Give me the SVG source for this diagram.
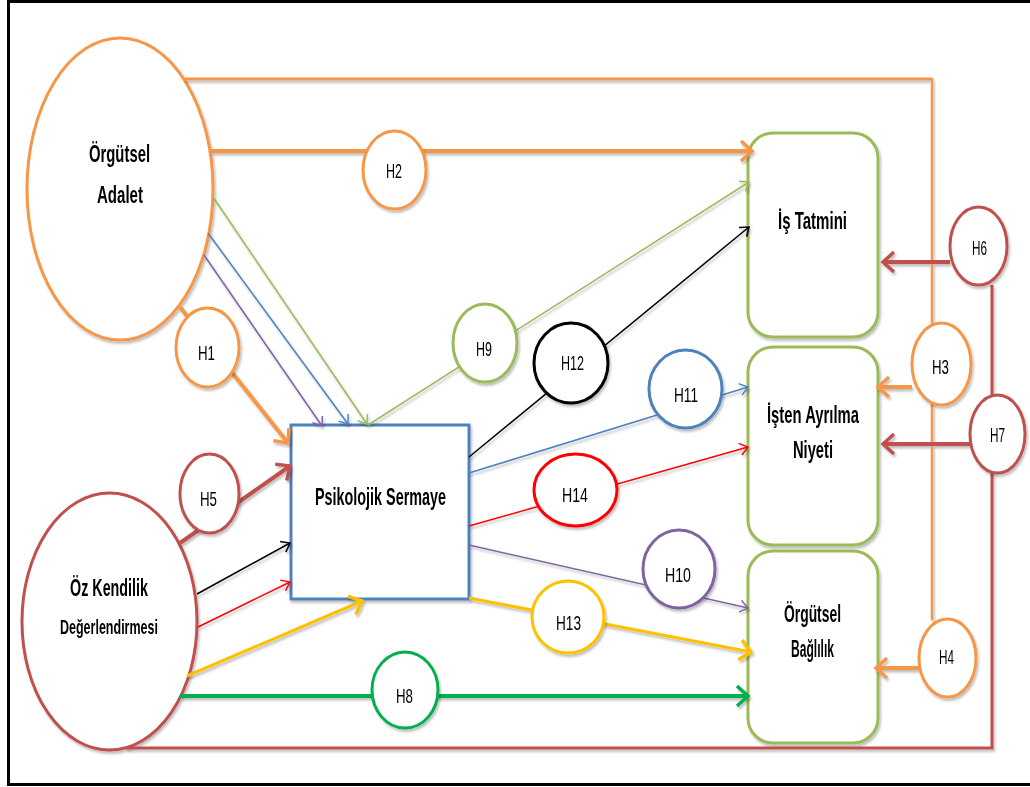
<svg xmlns="http://www.w3.org/2000/svg" width="1030" height="787" viewBox="0 0 1030 787">
<style>
.bg{fill:#fff}
.frame{stroke:#000;stroke-width:3;fill:none}
.node{fill:#fff}
.lbl{font-family:"Liberation Sans",Arial,sans-serif;font-weight:bold;font-size:24px;fill:#000;text-anchor:middle}
.sm{font-size:21px}
.h{font-family:"Liberation Sans",Arial,sans-serif;font-weight:normal;font-size:21px;fill:#000;text-anchor:middle}
.c{fill:none;stroke-linecap:butt}
.or{stroke:#F79646}
.dr{stroke:#C0504D}
.lg{stroke:#9BBB59}
.bl{stroke:#4F81BD}
.pu{stroke:#8064A2}
.ye{stroke:#FFC000}
.rd{stroke:#FF0000}
.gr{stroke:#00B050}
.bk{stroke:#000}
.thick{stroke-width:4}
.mid{stroke-width:3}
.thin{stroke-width:1.5}
.circ{fill:#fff;stroke-width:3}
</style>
<defs>
<filter id="sh" x="-10%" y="-10%" width="130%" height="140%">
<feDropShadow dx="1.5" dy="2.5" stdDeviation="1.2" flood-color="#000" flood-opacity="0.25"/>
</filter>
<marker id="aOr" markerUnits="userSpaceOnUse" markerWidth="20" markerHeight="24" refX="12" refY="11" orient="auto" overflow="visible"><path d="M1,1 L12,11 L1,21" fill="none" stroke="#F79646" stroke-width="3.5"/></marker>
<marker id="aDr" markerUnits="userSpaceOnUse" markerWidth="20" markerHeight="24" refX="12" refY="11" orient="auto" overflow="visible"><path d="M1,1 L12,11 L1,21" fill="none" stroke="#C0504D" stroke-width="3.5"/></marker>
<marker id="aYe" markerUnits="userSpaceOnUse" markerWidth="20" markerHeight="24" refX="12" refY="11" orient="auto" overflow="visible"><path d="M1,1 L12,11 L1,21" fill="none" stroke="#FFC000" stroke-width="3.5"/></marker>
<marker id="aGr" markerUnits="userSpaceOnUse" markerWidth="20" markerHeight="24" refX="12" refY="11" orient="auto" overflow="visible"><path d="M1,1 L12,11 L1,21" fill="none" stroke="#00B050" stroke-width="3.5"/></marker>
<marker id="aLg" markerUnits="userSpaceOnUse" markerWidth="14" markerHeight="16" refX="9" refY="7" orient="auto" overflow="visible"><path d="M1,1 L9,7 L1,13" fill="none" stroke="#9BBB59" stroke-width="1.5"/></marker>
<marker id="aBl" markerUnits="userSpaceOnUse" markerWidth="14" markerHeight="16" refX="9" refY="7" orient="auto" overflow="visible"><path d="M1,1 L9,7 L1,13" fill="none" stroke="#4F81BD" stroke-width="1.5"/></marker>
<marker id="aPu" markerUnits="userSpaceOnUse" markerWidth="14" markerHeight="16" refX="9" refY="7" orient="auto" overflow="visible"><path d="M1,1 L9,7 L1,13" fill="none" stroke="#8064A2" stroke-width="1.5"/></marker>
<marker id="aBk" markerUnits="userSpaceOnUse" markerWidth="14" markerHeight="16" refX="9" refY="7" orient="auto" overflow="visible"><path d="M1,1 L9,7 L1,13" fill="none" stroke="#000" stroke-width="1.5"/></marker>
<marker id="aRd" markerUnits="userSpaceOnUse" markerWidth="14" markerHeight="16" refX="9" refY="7" orient="auto" overflow="visible"><path d="M1,1 L9,7 L1,13" fill="none" stroke="#FF0000" stroke-width="1.5"/></marker>
</defs>
<rect class="bg" x="0" y="0" width="1030" height="787"/>
<path class="frame" d="M1030,1.5 H8.5 V784.5 H1030"/>

<g id="node-orgutsel-adalet" filter="url(#sh)">
<ellipse class="node or" cx="120" cy="189" rx="93" ry="151" stroke-width="3"/>
<text class="lbl" x="119.5" y="162" textLength="61" lengthAdjust="spacingAndGlyphs">Örgütsel</text>
<text class="lbl" x="120" y="203" textLength="46" lengthAdjust="spacingAndGlyphs">Adalet</text>
</g>
<g id="node-oz-kendilik" filter="url(#sh)">
<ellipse class="node dr" cx="109.5" cy="621.5" rx="87.5" ry="128.5" stroke-width="3"/>
<text class="lbl" x="109" y="596" textLength="78" lengthAdjust="spacingAndGlyphs">Öz Kendilik</text>
<text class="lbl sm" x="109" y="634" textLength="98" lengthAdjust="spacingAndGlyphs">Değerlendirmesi</text>
</g>
<g id="node-psikolojik-sermaye" filter="url(#sh)">
<rect class="node bl" x="291" y="425" width="178" height="174" stroke-width="3"/>
<text class="lbl" x="380.5" y="505" textLength="131" lengthAdjust="spacingAndGlyphs">Psikolojik Sermaye</text>
</g>
<g id="node-is-tatmini" filter="url(#sh)">
<rect class="node lg" x="748" y="133" width="130" height="204" rx="25" ry="25" stroke-width="3"/>
<text class="lbl" x="812.5" y="229" textLength="69" lengthAdjust="spacingAndGlyphs">İş Tatmini</text>
</g>
<g id="node-isten-ayrilma" filter="url(#sh)">
<rect class="node lg" x="748" y="347" width="130" height="198" rx="25" ry="25" stroke-width="3"/>
<text class="lbl" x="813" y="423" textLength="92" lengthAdjust="spacingAndGlyphs">İşten Ayrılma</text>
<text class="lbl" x="813" y="458" textLength="40" lengthAdjust="spacingAndGlyphs">Niyeti</text>
</g>
<g id="node-orgutsel-baglilik" filter="url(#sh)">
<rect class="node lg" x="748" y="551" width="130" height="192" rx="25" ry="25" stroke-width="3"/>
<text class="lbl" x="812.5" y="622" textLength="57" lengthAdjust="spacingAndGlyphs">Örgütsel</text>
<text class="lbl" x="812.5" y="657" textLength="43" lengthAdjust="spacingAndGlyphs">Bağlılık</text>
</g>

<g id="connectors" filter="url(#sh)">
<path class="c or mid" d="M184,79 H932"/>
<path class="c or" stroke-width="2.5" d="M932,78 V620"/>
<path class="c dr mid" d="M992,285 V748 H126"/>
<path class="c or thick" d="M211,151 H752" marker-end="url(#aOr)"/>
<path class="c or thick" d="M180,307 L288,443" marker-end="url(#aOr)"/>
<path class="c lg thin" d="M213,197 L367,424" marker-end="url(#aLg)"/>
<path class="c bl thin" d="M208,233 L348,424" marker-end="url(#aBl)"/>
<path class="c pu thin" d="M204,255 L322,426" marker-end="url(#aPu)"/>
<path class="c dr thick" d="M180,543 L290,466" marker-end="url(#aDr)"/>
<path class="c bk thin" d="M197,594 L290,543" marker-end="url(#aBk)"/>
<path class="c rd thin" d="M198,627 L290,582" marker-end="url(#aRd)"/>
<path class="c ye mid" d="M187,676 L362,601" marker-end="url(#aYe)"/>
<path class="c gr thick" d="M180,696 H748" marker-end="url(#aGr)"/>
<path class="c lg thin" d="M368,425 L749,182" marker-end="url(#aLg)"/>
<path class="c bk thin" d="M469,457 L749,227" marker-end="url(#aBk)"/>
<path class="c bl thin" d="M469,473 L748,387" marker-end="url(#aBl)"/>
<path class="c rd thin" d="M469,526 L748,447" marker-end="url(#aRd)"/>
<path class="c pu thin" d="M469,545 L748,608" marker-end="url(#aPu)"/>
<path class="c ye mid" d="M469,598 L751,652" marker-end="url(#aYe)"/>
<path class="c or thick" d="M912,387 L878,387" marker-end="url(#aOr)"/>
<path class="c or thick" d="M919,668 L876,668" marker-end="url(#aOr)"/>
<path class="c dr thick" d="M950,262 L883,262" marker-end="url(#aDr)"/>
<path class="c dr thick" d="M970,444 L883,444" marker-end="url(#aDr)"/>
</g>

<g id="h1" filter="url(#sh)"><ellipse class="circ or" cx="207.5" cy="347.5" rx="31.5" ry="39.5"/><text class="h" x="206.5" y="360" textLength="17" lengthAdjust="spacingAndGlyphs">H1</text></g>
<g id="h2" filter="url(#sh)"><ellipse class="circ or" cx="394.5" cy="170" rx="31.5" ry="39"/><text class="h" x="394" y="178" textLength="16" lengthAdjust="spacingAndGlyphs">H2</text></g>
<g id="h3" filter="url(#sh)"><ellipse class="circ or" cx="941.5" cy="364" rx="29.5" ry="41"/><text class="h" x="940.5" y="374" textLength="17" lengthAdjust="spacingAndGlyphs">H3</text></g>
<g id="h4" filter="url(#sh)"><ellipse class="circ or" cx="947.5" cy="658" rx="28.5" ry="39"/><text class="h" x="946.5" y="664" textLength="15" lengthAdjust="spacingAndGlyphs">H4</text></g>
<g id="h5" filter="url(#sh)"><ellipse class="circ dr" cx="209.5" cy="493.5" rx="29.5" ry="39.5"/><text class="h" x="208.5" y="506" textLength="17" lengthAdjust="spacingAndGlyphs">H5</text></g>
<g id="h6" filter="url(#sh)"><ellipse class="circ dr" cx="978.5" cy="246" rx="28.5" ry="39"/><text class="h" x="979.5" y="255" textLength="15" lengthAdjust="spacingAndGlyphs">H6</text></g>
<g id="h7" filter="url(#sh)"><ellipse class="circ dr" cx="997.5" cy="434" rx="27.5" ry="39"/><text class="h" x="997.5" y="442" textLength="15" lengthAdjust="spacingAndGlyphs">H7</text></g>
<g id="h8" filter="url(#sh)"><ellipse class="circ gr" cx="405" cy="690" rx="33" ry="38"/><text class="h" x="404.5" y="703" textLength="17" lengthAdjust="spacingAndGlyphs">H8</text></g>
<g id="h9" filter="url(#sh)"><ellipse class="circ lg" cx="485" cy="343" rx="32" ry="39"/><text class="h" x="484" y="356" textLength="16" lengthAdjust="spacingAndGlyphs">H9</text></g>
<g id="h10" filter="url(#sh)"><ellipse class="circ pu" cx="679" cy="569" rx="36" ry="39"/><text class="h" x="678" y="582" textLength="26" lengthAdjust="spacingAndGlyphs">H10</text></g>
<g id="h11" filter="url(#sh)"><ellipse class="circ bl" cx="685.5" cy="389" rx="36.5" ry="39"/><text class="h" x="686" y="402" textLength="24" lengthAdjust="spacingAndGlyphs">H11</text></g>
<g id="h12" filter="url(#sh)"><ellipse class="circ bk" cx="571" cy="363" rx="37" ry="40" stroke-width="3.5"/><text class="h" x="572.5" y="370" textLength="23" lengthAdjust="spacingAndGlyphs">H12</text></g>
<g id="h13" filter="url(#sh)"><ellipse class="circ ye" cx="568" cy="617" rx="36" ry="36"/><text class="h" x="568.5" y="630" textLength="25" lengthAdjust="spacingAndGlyphs">H13</text></g>
<g id="h14" filter="url(#sh)"><ellipse class="circ rd" cx="575.5" cy="490" rx="41.5" ry="36"/><text class="h" x="575" y="502" textLength="26" lengthAdjust="spacingAndGlyphs">H14</text></g>
</svg>
